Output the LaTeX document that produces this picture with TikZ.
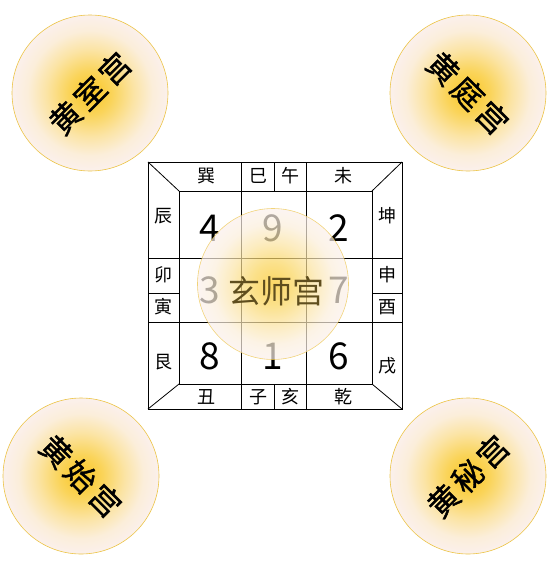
\documentclass[tikz,border=0pt]{standalone}
\usepackage{fontspec}
\setmainfont{Noto Sans CJK SC}
\newfontfamily\palacefont[LetterSpace=12, FakeBold=1.2]{Noto Sans CJK SC}
\usepackage{tikz}

\definecolor{goldcore}{RGB}{249,198,35}
\definecolor{goldmid}{RGB}{250,212,90}
\definecolor{goldlight}{RGB}{251,228,165}
\definecolor{goldpale}{RGB}{251,238,218}
\definecolor{goldedge}{RGB}{251,240,236}
\definecolor{goldrim}{RGB}{236,196,70}
\definecolor{palacetext}{RGB}{95,78,30}

\pgfdeclareradialshading{palaceball}{\pgfpoint{0bp}{0bp}}{color(0bp)=(goldcore); color(7bp)=(goldmid); color(14bp)=(goldlight); color(20bp)=(goldpale); color(25bp)=(goldedge); color(50bp)=(goldedge)}

\begin{document}
\begin{tikzpicture}[x = 1pt, y = -1pt, line width = 0.8pt,
                        ball/.style = {circle, draw = goldrim, line width = 0.6pt, shading = palaceball, minimum size = 156pt, inner sep = 0pt},
                        branch/.style = {font = \fontsize{18}{18}\selectfont},
                        star/.style = {font = \fontsize{37}{37}\selectfont},
                        palace/.style = {font = \palacefont\fontsize{31}{31}\selectfont, inner sep = 0pt}]
      \useasboundingbox (0, 0) rectangle (556, 571);

      % corner palaces
      \node [ball] (tl) at (90, 93){};
      \node [ball] (tr) at (468, 93){};
      \node [ball] (bl) at (81, 476){};
      \node [ball] (br) at (468, 476){};
      \node [palace, rotate = 45] (tltext) at (tl) {黄室宫};
      \node [palace, rotate = -45] (trtext) at (tr) {黄庭宫};
      \node [palace, rotate = -45] (bltext) at (bl) {黄始宫};
      \node [palace, rotate = 45] (brtext) at (br) {黄秘宫};

      % the board
      \coordinate (o1) at (148, 162);
      \coordinate (o2) at (402, 162);
      \coordinate (o3) at (402, 409);
      \coordinate (o4) at (148, 409);
      \coordinate (i1) at (179, 191);
      \coordinate (i2) at (372, 191);
      \coordinate (i3) at (372, 384);
      \coordinate (i4) at (179, 384);

      \draw (o1) -- (o2) -- (o3) -- (o4) -- cycle;
      \draw (i1) -- (i2) -- (i3) -- (i4) -- cycle;
      \draw (o1) -- (i1);
      \draw (o2) -- (i2);
      \draw (o3) -- (i3);
      \draw (o4) -- (i4);

      \foreach \x in {241, 306}
        \draw (\x, 162) -- (\x, 409);
      \foreach \y in {258, 322}
        \draw (148, \y) -- (402, \y);
      \draw (274, 162) -- (274, 191);
      \draw (274, 384) -- (274, 409);
      \draw (148, 293) -- (179, 293);
      \draw (372, 293) -- (402, 293);

      \node [branch] (xun) at (206, 176) {巽};
      \node [branch] (si) at (258, 176) {巳};
      \node [branch] (wu) at (290, 176) {午};
      \node [branch] (wei) at (343, 176) {未};
      \node [branch] (chou) at (206, 397) {丑};
      \node [branch] (zi) at (258, 397) {子};
      \node [branch] (hai) at (290, 397) {亥};
      \node [branch] (qian) at (343, 397) {乾};
      \node [branch] (chen) at (163, 216) {辰};
      \node [branch] (mao) at (163, 275) {卯};
      \node [branch] (yin) at (163, 307) {寅};
      \node [branch] (gen) at (163, 362) {艮};
      \node [branch] (kun) at (387, 216) {坤};
      \node [branch] (shen) at (387, 275) {申};
      \node [branch] (you) at (387, 307) {酉};
      \node [branch] (xu) at (387, 366) {戌};

      \node [star] (s4) at (210, 228) {4};
      \node [star] (s9) at (273, 228) {9};
      \node [star] (s2) at (339, 228) {2};
      \node [star] (s3) at (210, 290) {3};
      \node [star] (s7) at (339, 290) {7};
      \node [star] (s8) at (210, 356) {8};
      \node [star] (s1) at (273, 356) {1};
      \node [star] (s6) at (339, 356) {6};

      % centre palace over the board
      \node [ball, minimum size = 151pt, opacity = 0.7] (mid) at (273, 284){};
      \node [font = \fontsize{32}{32}\selectfont, text = palacetext] (midtext) at (276, 291) {玄师宫};

      \end{tikzpicture}
\end{document}
